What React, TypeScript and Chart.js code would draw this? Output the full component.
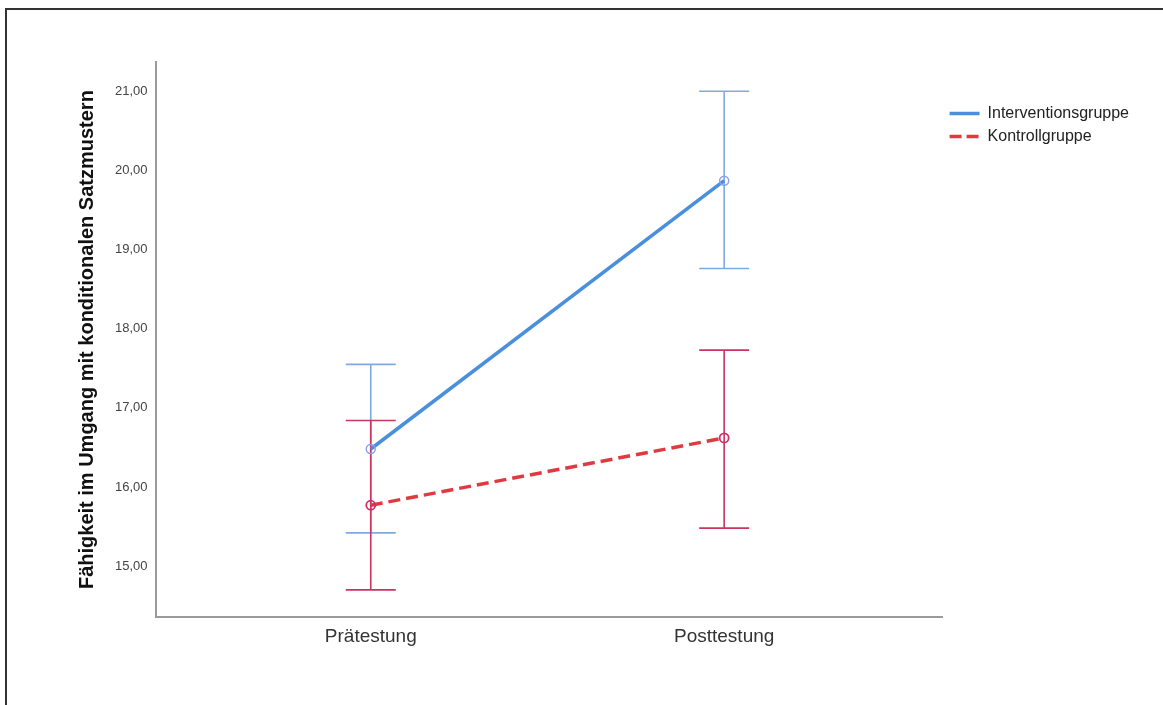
import React, { useEffect, useRef } from "react";
import { Chart, registerables } from "chart.js";

Chart.register(...registerables);

const categories = ["Prätestung", "Posttestung"];
const seriesNames = ["Interventionsgruppe", "Kontrollgruppe"];

const interventionMean = [16.48, 19.87];
const interventionLower = [15.42, 18.76];
const interventionUpper = [17.55, 21.0];

const controlMean = [15.77, 16.62];
const controlLower = [14.7, 15.48];
const controlUpper = [16.84, 17.73];

const yTicks = [15, 16, 17, 18, 19, 20, 21];
const yTitle = "Fähigkeit im Umgang mit konditionalen Satzmustern";

const FONT = "'Liberation Sans', Arial, sans-serif";
const BLUE_LINE = "#4a8fdc";
const BLUE_BAR = "#7eaae3";
const BLUE_POINT = "#8f9fe6";
const RED_LINE = "#e0393f";
const RED_BAR = "#c8355e";
const RED_POINT = "#d02e68";
const CAP = 25;

const lineColors = [BLUE_LINE, RED_LINE];
const legendDashes = [[], [12, 5]];

const errorSeries = [
  { lower: interventionLower, upper: interventionUpper, color: BLUE_BAR },
  { lower: controlLower, upper: controlUpper, color: RED_BAR },
];

const errorBarPlugin = {
  id: "errorBars",
  beforeDatasetsDraw(chart: any) {
    const { ctx, scales } = chart;
    const x = scales.x;
    const y = scales.y;
    errorSeries.forEach((s) => {
      ctx.save();
      ctx.strokeStyle = s.color;
      ctx.lineWidth = 1.6;
      s.lower.forEach((lo, i) => {
        const px = x.getPixelForValue(i);
        const pLo = y.getPixelForValue(lo);
        const pHi = y.getPixelForValue(s.upper[i]);
        ctx.beginPath();
        ctx.moveTo(px, pLo);
        ctx.lineTo(px, pHi);
        ctx.moveTo(px - CAP, pLo);
        ctx.lineTo(px + CAP, pLo);
        ctx.moveTo(px - CAP, pHi);
        ctx.lineTo(px + CAP, pHi);
        ctx.stroke();
      });
      ctx.restore();
    });
  },
};

export default function App() {
  const ref = useRef<HTMLCanvasElement | null>(null);

  useEffect(() => {
    if (!ref.current) return;
    const chart = new Chart(ref.current, {
      type: "line",
      data: {
        datasets: [
          {
            label: seriesNames[0],
            data: interventionMean.map((v, i) => ({ x: i, y: v })),
            borderColor: BLUE_LINE,
            borderWidth: 3.5,
            pointRadius: 4.5,
            pointBorderWidth: 1.5,
            pointBorderColor: BLUE_POINT,
            pointBackgroundColor: "rgba(255,255,255,0)",
            backgroundColor: BLUE_LINE,
            fill: false,
          },
          {
            label: seriesNames[1],
            data: controlMean.map((v, i) => ({ x: i, y: v })),
            borderColor: RED_LINE,
            borderWidth: 3.5,
            borderDash: [12, 6],
            pointRadius: 4.5,
            pointBorderWidth: 1.8,
            pointBorderColor: RED_POINT,
            pointBackgroundColor: "rgba(255,255,255,0)",
            backgroundColor: RED_LINE,
            fill: false,
          },
        ],
      },
      options: {
        animation: false,
        responsive: false,
        layout: { padding: { left: 60, right: 24, top: 62, bottom: 57 } },
        scales: {
          x: {
            type: "linear",
            min: -0.609,
            max: 1.618,
            afterBuildTicks: (scale: any) => {
              scale.ticks = categories.map((_, i) => ({ value: i }));
            },
            grid: { display: false },
            border: { display: true, color: "#9a9a9a", width: 2 },
            ticks: {
              padding: 0,
              color: "#333",
              font: { family: FONT, size: 19 },
              callback: (v: any) => categories[v] ?? "",
            },
          },
          y: {
            type: "linear",
            min: 14.355,
            max: 21.37,
            afterBuildTicks: (scale: any) => {
              scale.ticks = yTicks.map((v) => ({ value: v }));
            },
            grid: { display: false },
            border: { display: true, color: "#9a9a9a", width: 2 },
            ticks: {
              padding: 0,
              color: "#444",
              font: { family: FONT, size: 13 },
              callback: (v: any) => Number(v).toFixed(2).replace(".", ","),
            },
            title: {
              display: true,
              text: yTitle,
              color: "#111",
              font: { family: FONT, size: 20, weight: "bold" },
              padding: { top: 15, bottom: 16 },
            },
          },
        },
        plugins: {
          legend: {
            position: "right",
            align: "start",
            title: {
              display: true,
              text: " ",
              font: { size: 12 },
              padding: { top: 22, bottom: 0 },
            },
            labels: {
              usePointStyle: true,
              pointStyle: "line",
              pointStyleWidth: 30,
              boxWidth: 30,
              padding: 7,
              color: "#222",
              font: { family: FONT, size: 16 },
              generateLabels: (chart: any) =>
                Chart.defaults.plugins.legend.labels
                  .generateLabels(chart)
                  .map((l: any, i: number) => ({
                    ...l,
                    strokeStyle: lineColors[i],
                    fillStyle: lineColors[i],
                    lineWidth: 3.5,
                    lineDash: legendDashes[i],
                    pointStyle: "line",
                  })),
            },
          },
          tooltip: { enabled: false },
        },
      },
      plugins: [errorBarPlugin],
    });
    return () => chart.destroy();
  }, []);

  return (
    <div
      style={{
        position: "fixed",
        left: 0,
        top: 0,
        width: 1163,
        height: 705,
        background: "#fff",
        overflow: "hidden",
      }}
    >
      <div
        style={{
          position: "absolute",
          left: 5,
          top: 8,
          width: 1200,
          height: 800,
          borderTop: "2px solid #333",
          borderLeft: "2px solid #333",
        }}
      />
      <canvas
        ref={ref}
        width={1163}
        height={705}
        style={{ position: "absolute", left: 0, top: 0, display: "block" }}
      />
    </div>
  );
}
